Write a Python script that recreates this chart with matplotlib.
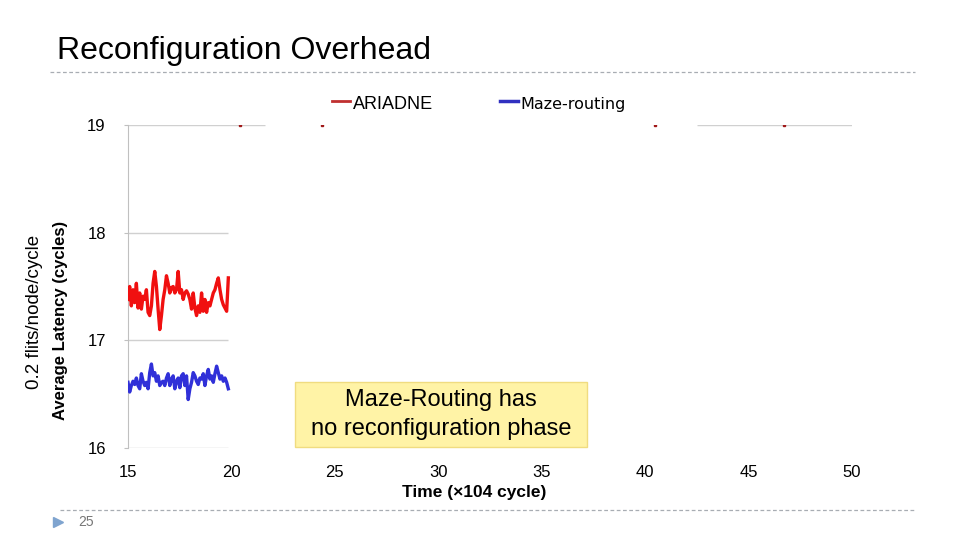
import numpy as np
import matplotlib.pyplot as plt
from matplotlib.patches import Rectangle
from matplotlib.lines import Line2D

plt.rcParams['font.family'] = ['Liberation Sans', 'DejaVu Sans']

# time samples (x10^4 cycles) over the visible part of the run
t_start, t_end = 15.0, 19.85
ariadne = [17.38, 17.50, 17.32, 17.47, 17.35, 17.53, 17.30, 17.44, 17.29, 17.41,
           17.38, 17.47, 17.26, 17.23, 17.32, 17.53, 17.64, 17.50, 17.29, 17.10,
           17.23, 17.38, 17.47, 17.60, 17.53, 17.44, 17.49, 17.50, 17.44, 17.47,
           17.64, 17.44, 17.47, 17.38, 17.44, 17.46, 17.43, 17.38, 17.29, 17.44,
           17.30, 17.23, 17.32, 17.26, 17.44, 17.27, 17.38, 17.26, 17.35, 17.32,
           17.38, 17.44, 17.47, 17.53, 17.58, 17.47, 17.38, 17.33, 17.30, 17.27,
           17.58]
maze = [16.61, 16.52, 16.58, 16.62, 16.59, 16.65, 16.58, 16.55, 16.69, 16.62,
        16.58, 16.61, 16.55, 16.70, 16.78, 16.67, 16.70, 16.62, 16.67, 16.58,
        16.61, 16.62, 16.58, 16.65, 16.69, 16.58, 16.64, 16.67, 16.55, 16.62,
        16.65, 16.56, 16.67, 16.69, 16.58, 16.67, 16.45, 16.55, 16.61, 16.70,
        16.67, 16.62, 16.59, 16.65, 16.64, 16.69, 16.58, 16.67, 16.73, 16.64,
        16.67, 16.61, 16.69, 16.76, 16.70, 16.64, 16.67, 16.62, 16.65, 16.61,
        16.55]
spike_marks = [20.4, 24.4, 40.5, 46.7]
x_ticks = [15, 20, 25, 30, 35, 40, 45, 50]
y_ticks = [16, 17, 18, 19]

times = np.linspace(t_start, t_end, len(ariadne))

fig = plt.figure(figsize=(9.6, 5.4), dpi=100)
W, H = 960, 540

def fx(px):
    return px / W

def fy(py):
    return 1 - py / H

# slide title and separators
fig.text(fx(57), fy(51), 'Reconfiguration Overhead', fontsize=23,
         ha='left', va='center', color='black')
fig.add_artist(Line2D([fx(50), fx(915)], [fy(72), fy(72)], color='#a8adb3',
                      lw=0.9, ls=(0, (3, 2))))
fig.add_artist(Line2D([fx(60), fx(915)], [fy(510), fy(510)], color='#a8adb3',
                      lw=0.9, ls=(0, (3, 2))))
fig.add_artist(Line2D([fx(58)], [fy(522)], marker='>', color='#7fa4cf',
                      markersize=7, lw=0))
fig.text(fx(78), fy(522), '25', fontsize=10, color='#777777', ha='left', va='center')

ax = fig.add_axes([fx(128), fy(448), (852 - 128) / W, (448 - 125) / H])
ax.set_xlim(15, 50)
ax.set_ylim(16, 19)

for y in [16, 17, 18]:
    ax.hlines(y, 15, t_end, color='#d0d0d0', lw=1, zorder=1)
ax.hlines(19, 15, 21.6, color='#d0d0d0', lw=1, zorder=1)
ax.hlines(19, 42.5, 50, color='#d0d0d0', lw=1, zorder=1)
ax.plot(spike_marks, [19] * len(spike_marks), ls='none', marker='s',
        markersize=1.8, color='#a01818', zorder=3)

ax.plot(times, ariadne, color='#f01010', lw=2.4, zorder=3)
ax.plot(times, maze, color='#3030d8', lw=2.4, zorder=3)

for s in ['top', 'right', 'bottom']:
    ax.spines[s].set_visible(False)
ax.spines['left'].set_color('#c0c0c0')

ax.set_xticks(x_ticks)
ax.set_yticks(y_ticks)
ax.tick_params(axis='x', length=0, pad=12, labelsize=12)
ax.tick_params(axis='y', length=3, color='#c0c0c0', pad=13, labelsize=12)

fig.text(fx(474), fy(492), 'Time (\u00d7104 cycle)', fontsize=12.5,
         fontweight='bold', ha='center', va='center')
fig.text(fx(60), fy(320), 'Average Latency (cycles)', fontsize=12,
         fontweight='bold', rotation=90, ha='center', va='center')
fig.text(fx(35), fy(312), '0.2 flits/node/cycle', fontsize=13.5,
         rotation=90, ha='center', va='center')

# legend
fig.add_artist(Line2D([fx(332), fx(350)], [fy(101), fy(101)], color='#c03030', lw=2))
fig.text(fx(353), fy(104), 'ARIADNE', fontsize=13, ha='left', va='center')
fig.add_artist(Line2D([fx(500), fx(518)], [fy(101), fy(101)], color='#3030c0', lw=2.5))
fig.text(fx(520), fy(105), 'Maze-routing', fontsize=11.5, ha='left', va='center',
         family='DejaVu Sans')

# annotation box
fig.add_artist(Rectangle((fx(295), fy(447)), (587 - 295) / W, (447 - 382) / H,
                         transform=fig.transFigure, facecolor='#fff3a6',
                         edgecolor='#f0dc80', lw=1))
fig.text(fx(441), fy(400), 'Maze-Routing has', fontsize=17, ha='center', va='center')
fig.text(fx(441), fy(429), 'no reconfiguration phase', fontsize=17,
         ha='center', va='center')

fig.savefig('out.png', dpi=100)
